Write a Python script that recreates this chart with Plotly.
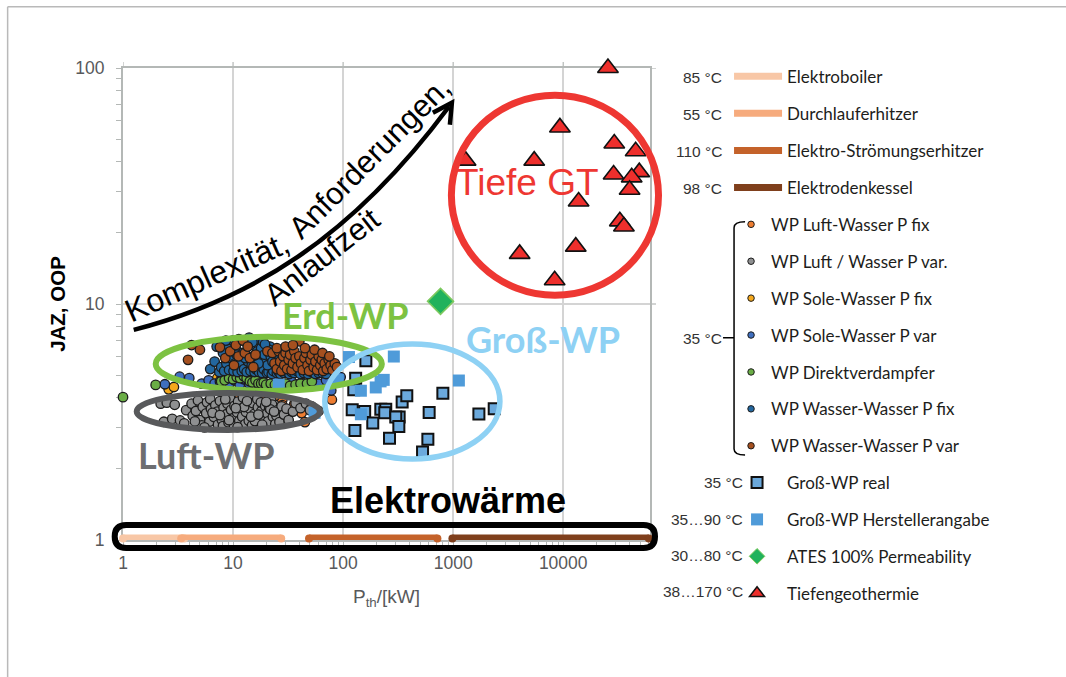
import plotly.graph_objects as go

# ---------- data ----------
boiler_x = [1, 3.6]
durchlauf_x = [3.38, 27.4]
stroemung_x = [49, 719]
kessel_x = [984, 60000]
strip_y = 1.015

orange_x = [15, 18.1, 21.5, 28, 28, 29, 32.8, 38, 42, 36, 79, 8.8, 24, 11.5, 45, 25.5]
orange_y = [4.0, 4.12, 3.85, 3.92, 3.73, 3.33, 3.5, 3.65, 3.45, 3.77, 3.93, 3.07, 4.08, 4.0, 3.16, 3.23]

grey_x = [2.2, 2.5, 2.95, 2.35, 2.8, 3.3, 3.6, 3.75, 4.2, 4.3, 4.6, 4.8, 5.0, 5.3, 5.2, 5.7, 5.8, 6.1, 6.3, 6.2, 6.7, 6.9, 7.3, 7.2, 7.6, 7.9, 8.2, 8.1, 8.7, 8.9, 9.1, 9.6, 9.4, 10, 10.3, 10.2, 10.9, 11.1, 11.4, 11.8, 12.1, 12.3, 12.9, 13.2, 13.1, 13.9, 14.3, 14.2, 14.9, 15.6, 15.2, 16.2, 16.8, 16.6, 17.6, 18.1, 17.9, 19, 19.6, 19.2, 20.4, 21.3, 20.8, 22.2, 23, 22.6, 24.2, 25.4, 24.8, 26.4, 27.6, 29, 30.6, 32, 35, 37, 41, 46, 52, 60, 6.5, 9.2, 12.6, 15.8, 7.6, 11, 14.6, 18.4, 21.8, 5.5, 4.5, 8.5, 10.6, 13.4, 17, 20, 23.6, 50, 56]
grey_y = [3.78, 3.82, 3.74, 3.17, 3.26, 3.21, 3.12, 3.55, 3.78, 3.36, 3.52, 3.9, 3.22, 3.66, 3.06, 3.44, 3.83, 3.17, 3.59, 3.96, 3.32, 3.72, 3.08, 3.5, 3.88, 3.23, 3.63, 3.04, 3.41, 3.78, 3.15, 3.56, 3.98, 3.28, 3.7, 3.05, 3.47, 3.86, 3.2, 3.6, 3.33, 4.02, 3.1, 3.75, 3.49, 3.2, 3.92, 3.6, 3.06, 3.42, 3.8, 3.25, 3.65, 3.96, 3.12, 3.52, 3.83, 3.28, 3.7, 3.07, 3.44, 3.62, 3.18, 3.9, 3.33, 3.75, 3.1, 3.55, 3.36, 3.16, 3.68, 3.4, 3.6, 3.22, 3.5, 3.8, 3.62, 3.78, 3.68, 3.52, 3.46, 3.22, 3.66, 3.19, 3.38, 3.01, 3.33, 3.08, 3.58, 3.0, 3.18, 3.94, 3.62, 3.88, 3.4, 3.85, 3.5, 3.55, 3.42]

yellow_x = [2.6, 2.9, 7.2, 7.9, 9, 14]
yellow_y = [4.35, 4.45, 4.85, 4.95, 4.8, 5.05]

sole_x = [2.4, 3.27, 4.0, 5.2, 6, 6.8, 7.6, 8.4, 9.3, 10.3, 11.5, 12.5, 14, 15.5, 17, 19, 21, 24, 27, 30, 34, 38, 42, 48, 54, 60, 70, 80, 95, 78]
sole_y = [4.57, 4.92, 4.85, 4.6, 4.75, 4.6, 4.7, 4.9, 4.6, 4.75, 4.55, 4.8, 4.6, 4.7, 4.55, 4.65, 4.55, 4.7, 4.6, 4.55, 4.7, 4.55, 4.65, 4.55, 4.7, 4.6, 4.75, 4.6, 4.9, 4.3]

green_x = [1.98, 1.0, 7.8, 8.4, 9.2, 10, 10.8, 11.6, 12.5, 13.3, 14.2, 15, 16, 17, 18, 19, 20, 22, 24, 30, 33, 37, 41, 47, 52]
green_y = [4.54, 4.03, 4.7, 4.75, 4.85, 4.8, 4.9, 4.85, 4.95, 4.85, 4.7, 4.65, 4.75, 4.6, 4.6, 4.65, 4.55, 4.6, 4.55, 4.6, 4.5, 4.55, 4.6, 4.6, 4.7]

wwfix_x = [6.2, 6.8, 7.1, 7.5, 7.8, 8.1, 8.3, 8.7, 9, 9.2, 9.5, 9.9, 10.1, 10.4, 10.7, 11, 11.3, 11.6, 12, 12.2, 12.6, 13, 13.3, 13.7, 14, 14.4, 14.8, 15.2, 15.7, 16.1, 16.6, 17.2, 17.8, 18.4, 19, 19.7, 20.3, 21, 21.7, 22.5, 23.2, 24, 25, 26, 27, 28, 29, 30, 31, 32.5, 34, 36, 38, 41, 44, 48, 52, 56, 60, 65, 70, 15, 16.4, 18, 19.3, 20.6, 22, 23.5, 17, 18.8, 21.2, 24.5, 26.5, 8.6, 10.8, 12.9, 15.6, 19.5, 22.8]
wwfix_y = [5.3, 5.7, 6.6, 5.15, 5.4, 6.2, 5.2, 5.6, 6.7, 5.25, 5.9, 7.0, 5.2, 5.6, 6.4, 5.15, 7.1, 5.6, 5.2, 6.2, 5.3, 6.9, 5.15, 5.7, 7.2, 5.2, 5.5, 6.7, 5.15, 5.3, 6.3, 5.15, 7.0, 5.1, 5.3, 5.7, 5.1, 5.15, 6.6, 5.05, 5.2, 5.5, 5.1, 5.15, 5.05, 5.25, 5.1, 6.5, 5.15, 5.05, 5.15, 5.1, 5.2, 5.05, 5.1, 5.05, 5.15, 5.05, 5.1, 5.1, 5.05, 6.9, 6.0, 6.5, 6.1, 5.5, 6.0, 6.3, 5.6, 6.9, 6.4, 5.8, 5.5, 7.0, 6.1, 5.9, 6.05, 6.75, 5.7]

wwvar_x = [4.2, 5.0, 3.9, 7.6, 8.5, 9.4, 10.2, 10.6, 11.2, 12.3, 12.8, 13.6, 14.2, 15.3, 16, 20.5, 22.8, 23.8, 25, 26, 26.8, 27.5, 28.5, 29.2, 30, 31, 32, 33, 34, 35, 36, 37, 38.5, 40, 40, 41.5, 43, 44.5, 46, 47.5, 49, 50.5, 52, 54, 56, 58, 60, 62, 64, 66, 68, 71, 74, 77, 80, 84, 88, 25, 30, 35, 45, 55, 65, 75]
wwvar_y = [6.7, 6.4, 5.8, 6.55, 5.9, 6.3, 5.5, 6.7, 6.0, 7.0, 6.2, 6.6, 5.9, 5.4, 6.1, 6.3, 6.2, 5.6, 5.3, 6.3, 5.7, 5.2, 6.0, 5.5, 6.2, 5.3, 5.8, 6.1, 5.25, 5.6, 6.3, 5.9, 5.4, 6.95, 6.0, 5.6, 5.25, 5.9, 6.2, 5.5, 5.2, 5.8, 6.1, 5.4, 5.7, 5.25, 6.0, 5.5, 5.8, 5.2, 5.6, 5.3, 5.8, 5.5, 5.25, 5.6, 5.4, 6.5, 6.6, 6.7, 6.5, 6.4, 6.2, 6.0]

gross_real_x = [161, 130, 125, 121, 157, 220, 244, 239, 344, 379, 806, 605, 1713, 2360, 323, 301, 321, 186, 128, 264, 589, 527]
gross_real_y = [5.75, 4.85, 4.33, 3.56, 3.50, 3.58, 3.58, 3.46, 3.84, 4.09, 4.19, 3.47, 3.42, 3.60, 3.32, 3.32, 3.03, 3.13, 2.91, 2.70, 2.67, 2.36]

gross_hersteller_x = [113, 289, 234, 219, 198, 145, 145, 1127, 89.5, 26, 55]
gross_hersteller_y = [5.96, 5.99, 4.77, 4.70, 4.43, 4.29, 3.41, 4.74, 4.77, 4.55, 3.46]

ates_x = [767]
ates_y = [10.26]

tiefen_x = [25500, 9330, 29100, 45500, 1297, 5450, 28700, 49100, 41900, 40100, 13800, 32700, 35600, 13000, 4020, 8360]
tiefen_y = [100, 56, 47.9, 44.4, 40.5, 40.5, 35.4, 36.2, 34.4, 30.5, 27.2, 22.4, 21.3, 17.5, 16.3, 12.6]

x_ticks = [1, 10, 100, 1000, 10000]
x_labels = ["1", "10", "100", "1000", "10000"]
y_ticks = [1, 10, 100]
y_labels = ["1", "10", "100"]
x_minor = [m * d for d in (1, 10, 100, 1000, 10000) for m in range(2, 10) if m * d <= 61000]
y_minor = [m * d for d in (1, 10) for m in range(2, 10)]

line_names = ["Elektroboiler", "Durchlauferhitzer", "Elektro-Strömungserhitzer", "Elektrodenkessel"]
line_temps = ["85 °C", "55 °C", "110 °C", "98 °C"]
line_colors = ["#f8c7a6", "#f6ab7d", "#c4622a", "#7f3f1c"]

# ---------- layout helpers: page pixels to paper fractions ----------
L, R, T, B = 123.3, 650.0, 68.3, 540.0
W, H = 1066, 677
def X(px): return (px - L) / (R - L)
def Y(py): return (B - py) / (B - T)
def path(*parts):
    out = []
    for p in parts:
        if isinstance(p, str):
            out.append(p)
        else:
            out.append(f"{X(p[0]):.5f},{Y(p[1]):.5f}")
    return " ".join(out)

SANS = "Liberation Sans"
HUM = "Lato"
EDGE = "#1c1c1c"
AX = "#b4b8b6"
LEG_FONT = dict(family=HUM, size=17, color="#1d1d1b")

fig = go.Figure()

# electric heating strip
for xs, name, c in zip([boiler_x, durchlauf_x, stroemung_x, kessel_x], line_names, line_colors):
    fig.add_trace(go.Scatter(x=xs, y=[strip_y, strip_y], mode="lines+markers", name=name,
                             line=dict(color=c, width=8), marker=dict(color=c, size=8),
                             cliponaxis=False, showlegend=False))

def dots(x, y, name, color):
    fig.add_trace(go.Scatter(x=x, y=y, mode="markers", name=name, showlegend=False, cliponaxis=False,
                             marker=dict(color=color, size=9.5, line=dict(color=EDGE, width=1.3))))

circle_names = ["WP Luft-Wasser P fix", "WP Luft / Wasser P var.", "WP Sole-Wasser P fix", "WP Sole-Wasser P var",
                "WP Direktverdampfer", "WP Wasser-Wasser P fix", "WP Wasser-Wasser P var"]
circle_colors = ["#ed7d31", "#8f9091", "#f5a81c", "#3f6fbf", "#6aad46", "#23679f", "#a5501f"]
for (xs, ys), n, c in zip([(orange_x, orange_y), (grey_x, grey_y), (yellow_x, yellow_y), (sole_x, sole_y),
                           (green_x, green_y), (wwfix_x, wwfix_y), (wwvar_x, wwvar_y)], circle_names, circle_colors):
    dots(xs, ys, n, c)

fig.add_trace(go.Scatter(x=gross_real_x, y=gross_real_y, mode="markers", name="Groß-WP real", showlegend=False,
                         marker=dict(symbol="square", size=11, color="#6ba9dc", line=dict(color="#111", width=2))))
fig.add_trace(go.Scatter(x=gross_hersteller_x, y=gross_hersteller_y, mode="markers", name="Groß-WP Herstellerangabe",
                         showlegend=False, marker=dict(symbol="square", size=12, color="#4f9bd9")))
fig.add_trace(go.Scatter(x=ates_x, y=ates_y, mode="markers", name="ATES 100% Permeability", showlegend=False,
                         marker=dict(symbol="diamond", size=20, color="#21b25c", line=dict(color="#7dc95e", width=1.5))))
fig.add_trace(go.Scatter(x=tiefen_x, y=tiefen_y, mode="markers", name="Tiefengeothermie", showlegend=False, cliponaxis=False,
                         marker=dict(symbol="triangle-up", size=18, color="#ee2f2c", line=dict(color="#111", width=1.6))))

# legend entries
gid = 0
def entry(name, legend, **kw):
    global gid
    gid += 1
    fig.add_trace(go.Scatter(x=[None], y=[None], name=name, legend=legend, legendgroup=f"g{gid}", showlegend=True, **kw))

for n, c in zip(line_names, line_colors):
    entry(n, "legend", mode="lines", line=dict(color=c, width=7))
for n, c in zip(circle_names, circle_colors):
    entry(n, "legend2", mode="markers", marker=dict(color=c, size=6.5, line=dict(color=EDGE, width=1)))
entry("Groß-WP real", "legend3", mode="markers", marker=dict(symbol="square", size=11, color="#6ba9dc", line=dict(color="#111", width=2)))
entry("Groß-WP Herstellerangabe", "legend3", mode="markers", marker=dict(symbol="square", size=12, color="#4f9bd9"))
entry("ATES 100% Permeability", "legend3", mode="markers", marker=dict(symbol="diamond", size=12, color="#21b25c", line=dict(color="#7dc95e", width=1)))
entry("Tiefengeothermie", "legend3", mode="markers", marker=dict(symbol="triangle-up", size=13, color="#ee2f2c", line=dict(color="#111", width=1.5)))

def leg(px, py, width, gap):
    return dict(x=X(px), y=Y(py), xanchor="left", yanchor="top", font=LEG_FONT, itemwidth=width, bgcolor="rgba(0,0,0,0)",
                tracegroupgap=gap, traceorder="grouped", itemclick=False, itemdoubleclick=False)

def ell(x0, x1, y0, y1, color, w):
    return dict(type="circle", xref="paper", yref="paper", x0=X(x0), x1=X(x1), y0=Y(y1), y1=Y(y0),
                line=dict(color=color, width=w), layer="above")

# rounded strip box
bx0, bx1, by0, by1, r = 115, 655, 525, 548, 11.5
box = path("M", (bx0 + r, by0), "L", (bx1 - r, by0), "Q", (bx1, by0), (bx1, by0 + r), "Q", (bx1, by1), (bx1 - r, by1),
           "L", (bx0 + r, by1), "Q", (bx0, by1), (bx0, by0 + r), "Q", (bx0, by0), (bx0 + r, by0), "Z")

shapes = [
    dict(type="line", xref="paper", yref="paper", x0=X(8), x1=X(1066), y0=Y(7), y1=Y(7), line=dict(color="#b9b9b9", width=1.5)),
    dict(type="line", xref="paper", yref="paper", x0=X(8), x1=X(8), y0=Y(7), y1=Y(677), line=dict(color="#b9b9b9", width=1.5)),
    ell(156, 382, 337, 391, "#7dc242", 6),
    ell(137, 320, 393, 430, "#58595b", 6),
    ell(325, 500, 344, 459, "#8ed1f4", 5.5),
    ell(451.5, 658.5, 95.5, 295.5, "#ee3732", 7),
    dict(type="path", xref="paper", yref="paper", path=box, line=dict(color="#000", width=6)),
    dict(type="path", xref="paper", yref="paper", line=dict(color="#000", width=4.5),
         path=path("M", (134, 330), "C", (250, 300), (350, 240), (449, 107))),
    dict(type="path", xref="paper", yref="paper", line=dict(color="#000", width=4.5),
         path=path("M", (433, 113), "L", (452, 103), "L", (450, 125))),
    dict(type="path", xref="paper", yref="paper", line=dict(color="#000", width=1.5),
         path=path("M", (745, 222), "Q", (734, 222), (734, 228), "L", (734, 449), "Q", (734, 455), (745, 455),
                   "M", (723, 338), "L", (734, 338))),
]
# major tick stubs on the top and right edges only
for v in x_ticks:
    shapes.append(dict(type="line", xref="x", yref="paper", x0=v, x1=v, y0=1, y1=Y(T - 6), layer="below",
                       line=dict(color=AX, width=1.2)))
for v in y_ticks[1:]:
    shapes.append(dict(type="line", xref="paper", yref="y", x0=1, x1=X(R + 6), y0=v, y1=v, layer="below",
                       line=dict(color=AX, width=1.2)))

def note(text, px, py, size, color, family=SANS, bold=False, angle=0, xanchor="center"):
    return dict(text=f"<b>{text}</b>" if bold else text, x=X(px), y=Y(py), xref="paper", yref="paper", showarrow=False,
                xanchor=xanchor, yanchor="middle", textangle=angle, font=dict(family=family, size=size, color=color))

annos = [
    note("Komplexität,", 207, 277, 32, "#000", angle=-24),
    note("Anforderungen,", 370, 158, 31, "#000", angle=-45),
    note("Anlaufzeit", 323, 257, 31, "#000", angle=-38),
    note("Erd-WP", 346, 315, 36, "#7dc242", family=HUM, bold=True),
    note("Groß-WP", 543, 339, 36, "#8ed1f4", family=HUM, bold=True),
    note("Luft-WP", 207, 455, 36, "#6d6e71", family=HUM, bold=True),
    note("Tiefe GT", 528, 183, 37, "#ee3732"),
    note("Elektrowärme", 448, 501, 36, "#000", bold=True),
]
for t, py in zip(line_temps, [78, 115, 152, 189]):
    annos.append(note(t, 724, py, 15.5, "#333", xanchor="right"))
annos.append(note("35 °C", 724, 339, 15.5, "#333", xanchor="right"))
for t, py in zip(["35 °C", "35…90 °C", "30…80 °C", "38…170 °C"], [483, 520, 555, 591]):
    annos.append(note(t, 745, py, 15.5, "#333", xanchor="right"))

fig.update_layout(
    width=W, height=H, autosize=False, paper_bgcolor="white", plot_bgcolor="white",
    margin=dict(l=L, r=W - R, t=T, b=H - B, pad=0),
    shapes=shapes, annotations=annos,
    legend=leg(729, 59, 48, 12),
    legend2=leg(731, 207, 30, 11.8),
    legend3=leg(727, 465, 50, 11.8),
    xaxis=dict(type="log", range=[0, 4.7885], tickmode="array", tickvals=x_ticks, ticktext=x_labels, layer="below traces",
               showgrid=True, gridcolor="#d4d4d4", gridwidth=1.5, showline=True, linecolor=AX, linewidth=2, mirror=True,
               ticks="outside", ticklen=6, tickcolor=AX, tickwidth=1.2, ticklabelstandoff=0,
               tickfont=dict(family=SANS, size=17.5, color="#58595b"), zeroline=False,
               minor=dict(tickmode="array", tickvals=x_minor, ticks="outside", ticklen=4, tickcolor=AX, showgrid=False),
               title=dict(text="P<sub>th</sub>/[kW]", font=dict(family=SANS, size=19, color="#58595b"), standoff=18)),
    yaxis=dict(type="log", range=[0, 2], tickmode="array", tickvals=y_ticks, ticktext=y_labels, layer="below traces",
               showgrid=True, gridcolor="#d4d4d4", gridwidth=1.5, showline=True, linecolor=AX, linewidth=2, mirror=True,
               ticks="outside", ticklen=5, tickcolor=AX, tickwidth=1.2, ticklabelstandoff=8,
               tickfont=dict(family=SANS, size=17.5, color="#58595b"), zeroline=False,
               minor=dict(tickmode="array", tickvals=y_minor, ticks="outside", ticklen=5, tickcolor=AX, showgrid=False),
               title=dict(text="<b>JAZ, OOP</b>", font=dict(family=SANS, size=20.5, color="#000"), standoff=4)),
)

fig.write_html("out.html", config=dict(displayModeBar=False),
               post_script="document.documentElement.style.overflow='hidden';document.body.style.margin='0';")
